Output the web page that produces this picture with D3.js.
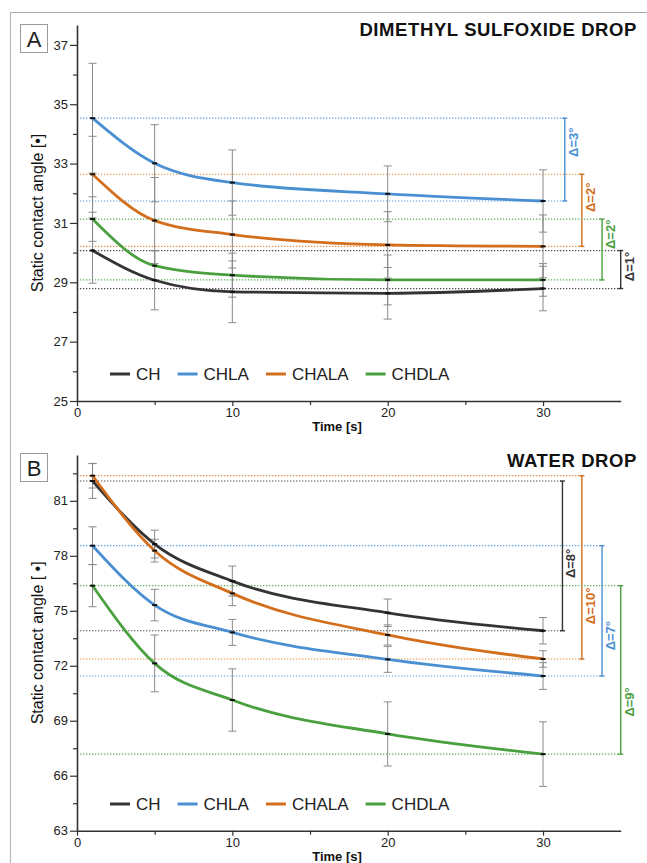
<!DOCTYPE html>
<html>
<head>
<meta charset="utf-8">
<script src="https://cdn.jsdelivr.net/npm/d3@7"></script>
<style>
  html, body { margin: 0; padding: 0; background: #fff; }
  svg { display: block; font-family: "Liberation Sans", Arial, sans-serif; }
</style>
</head>
<body>
<svg id="chart" width="647" height="863"></svg>
<script>
// Sampling times [s]
const times = [1, 5, 10, 20, 30];
const seriesNames = ["CH", "CHLA", "CHALA", "CHDLA"];

// Dimethyl sulfoxide drop: mean static contact angle [°]
const dmsoCH    = [30.07, 29.07, 28.68, 28.63, 28.79];
const dmsoCHLA  = [34.53, 33.01, 32.36, 31.98, 31.74];
const dmsoCHALA = [32.64, 31.08, 30.61, 30.26, 30.21];
const dmsoCHDLA = [31.13, 29.56, 29.24, 29.08, 29.08];
// Dimethyl sulfoxide drop: standard deviation
const dmsoErrCH    = [1.10, 1.00, 1.04, 0.87, 0.75];
const dmsoErrCHLA  = [1.85, 1.30, 1.10, 0.94, 1.05];
const dmsoErrCHALA = [1.28, 1.45, 1.13, 1.12, 1.06];
const dmsoErrCHDLA = [0.75, 0.50, 0.74, 0.84, 0.55];
const dmsoDeltaLabels = ["Δ=1°", "Δ=3°", "Δ=2°", "Δ=2°"];

// Water drop: mean static contact angle [°]
const waterCH    = [82.08, 78.64, 76.62, 74.89, 73.91];
const waterCHLA  = [78.55, 75.31, 73.82, 72.35, 71.44];
const waterCHALA = [82.37, 78.28, 75.95, 73.68, 72.37];
const waterCHDLA = [76.37, 72.13, 70.13, 68.28, 67.18];
// Water drop: standard deviation
const waterErrCH    = [0.95, 0.76, 0.82, 0.75, 0.72];
const waterErrCHLA  = [1.03, 0.86, 0.71, 0.71, 0.73];
const waterErrCHALA = [0.67, 0.62, 0.67, 0.55, 0.45];
const waterErrCHDLA = [1.15, 1.55, 1.70, 1.75, 1.76];
const waterDeltaLabels = ["Δ=8°", "Δ=7°", "Δ=10°", "Δ=9°"];

// Axis ticks
const xTicks = [0, 10, 20, 30];
const xMinorTicks = [5, 15, 25];
const dmsoTicks = [25, 27, 29, 31, 33, 35, 37];
const dmsoMinorTicks = [26, 28, 30, 32, 34, 36];
const waterTicks = [63, 66, 69, 72, 75, 78, 81];
const waterMinorTicks = [64.5, 67.5, 70.5, 73.5, 76.5, 79.5, 82.5];

// Styling
const lineColor = { CH: "#343434", CHLA: "#4a8fd2", CHALA: "#d26e1c", CHDLA: "#4a9f3f" };
const dotColor  = { CH: "#4a4a4a", CHLA: "#5aa0e2", CHALA: "#e48a3a", CHDLA: "#5cb055" };

const svg = d3.select("#chart");

// outer frame
svg.append("line").attr("x1", 10).attr("x2", 647).attr("y1", 12.5).attr("y2", 12.5)
  .attr("stroke", "#a8a8a8").attr("stroke-width", 1.2);
svg.append("line").attr("x1", 10.5).attr("x2", 10.5).attr("y1", 12).attr("y2", 863)
  .attr("stroke", "#b8b8b8").attr("stroke-width", 1.2);

function drawPanel(cfg) {
  const g = svg.append("g");
  const x = d3.scaleLinear().domain([0, 35]).range([77, 620.7]);
  const y = d3.scaleLinear().domain(cfg.yDomain).range(cfg.yRange);

  const series = seriesNames.map((name, i) => ({
    name,
    values: cfg.values[i].map((v, j) => ({ t: times[j], v, e: cfg.errors[i][j] })),
    label: cfg.deltaLabels[i]
  }));

  // panel letter
  g.append("rect").attr("x", 20.5).attr("y", cfg.letterY + 0.5).attr("width", 27).attr("height", 28)
    .attr("fill", "#fff").attr("stroke", "#9a9a9a").attr("stroke-width", 1);
  g.append("text").attr("x", 34).attr("y", cfg.letterY + 23).attr("text-anchor", "middle")
    .attr("font-size", 22).attr("fill", "#222").text(cfg.letter);

  // title
  g.append("text").attr("x", 637).attr("y", cfg.titleY).attr("text-anchor", "end")
    .attr("font-size", 18.5).attr("letter-spacing", 0.6).attr("font-weight", "bold")
    .attr("fill", "#111").text(cfg.title);

  // reference dotted levels and delta brackets (first and last reading)
  series.forEach((s, i) => {
    const first = s.values[0].v, last = s.values[s.values.length - 1].v;
    const bx = x(cfg.bracketT[i]);
    [first, last].forEach(v => {
      g.append("line").attr("x1", x(0)).attr("x2", bx).attr("y1", y(v)).attr("y2", y(v))
        .attr("stroke", dotColor[s.name]).attr("stroke-width", 1.2).attr("stroke-dasharray", "1.3,1.7");
    });
    g.append("line").attr("x1", bx).attr("x2", bx).attr("y1", y(first)).attr("y2", y(last))
      .attr("stroke", lineColor[s.name]).attr("stroke-width", 1.4);
    [first, last].forEach(v => {
      g.append("line").attr("x1", bx - 2.5).attr("x2", bx + 2.5).attr("y1", y(v)).attr("y2", y(v))
        .attr("stroke", lineColor[s.name]).attr("stroke-width", 1.4);
    });
    const top = y(Math.max(first, last)), bot = y(Math.min(first, last));
    const ly = top + (bot - top) * cfg.labelFrac[i];
    g.append("text").attr("transform", `translate(${bx + 13},${ly}) rotate(-90)`)
      .attr("text-anchor", "middle").attr("font-size", 13).attr("font-weight", "bold")
      .attr("fill", lineColor[s.name]).text(s.label);
  });

  // error bars
  series.forEach(s => {
    s.values.forEach(d => {
      g.append("line").attr("x1", x(d.t)).attr("x2", x(d.t)).attr("y1", y(d.v + d.e)).attr("y2", y(d.v - d.e))
        .attr("stroke", "#8a8a8a").attr("stroke-width", 1);
      [d.v + d.e, d.v - d.e].forEach(v => {
        g.append("line").attr("x1", x(d.t) - 4).attr("x2", x(d.t) + 4).attr("y1", y(v)).attr("y2", y(v))
          .attr("stroke", "#8a8a8a").attr("stroke-width", 1);
      });
    });
  });

  // curves
  const line = d3.line().x(d => x(d.t)).y(d => y(d.v)).curve(d3.curveMonotoneX);
  series.forEach(s => {
    g.append("path").datum(s.values).attr("d", line).attr("fill", "none")
      .attr("stroke", lineColor[s.name]).attr("stroke-width", 2.8).attr("stroke-linecap", "round");
  });
  // point markers
  series.forEach(s => {
    s.values.forEach(d => {
      g.append("line").attr("x1", x(d.t) - 2.5).attr("x2", x(d.t) + 2.5).attr("y1", y(d.v)).attr("y2", y(d.v))
        .attr("stroke", "#111").attr("stroke-width", 2);
    });
  });

  // axes
  const axisColor = "#333";
  g.append("g").attr("transform", `translate(${x(0)},0)`)
    .call(d3.axisLeft(y).tickValues(cfg.yTicks).tickSize(7).tickSizeOuter(0).tickPadding(2).tickFormat(d3.format("d")));
  g.append("g").attr("transform", `translate(${x(0)},0)`)
    .call(d3.axisLeft(y).tickValues(cfg.yMinor).tickSize(4).tickSizeOuter(0).tickFormat(""))
    .select(".domain").remove();
  g.append("g").attr("transform", `translate(0,${cfg.yRange[0]})`)
    .call(d3.axisBottom(x).tickValues(xTicks).tickSize(5).tickSizeOuter(0).tickPadding(2).tickFormat(d3.format("d")));
  g.append("g").attr("transform", `translate(0,${cfg.yRange[0]})`)
    .call(d3.axisBottom(x).tickValues(xMinorTicks).tickSize(4).tickSizeOuter(0).tickFormat(""))
    .select(".domain").remove();
  g.selectAll(".domain").attr("stroke", axisColor).attr("stroke-width", 1.6);
  g.selectAll(".tick line").attr("stroke", axisColor).attr("stroke-width", 1.2);
  g.selectAll(".tick text").attr("font-size", 13).attr("fill", "#222")
    .attr("font-family", "'Liberation Sans', Arial, sans-serif");

  // axis titles
  g.append("text").attr("x", 337).attr("y", cfg.yRange[0] + 30).attr("text-anchor", "middle")
    .attr("font-size", 13).attr("font-weight", "bold").attr("fill", "#111").text("Time [s]");
  g.append("text")
    .attr("transform", `translate(43,${(cfg.yRange[0] + cfg.yRange[1]) / 2}) rotate(-90)`)
    .attr("text-anchor", "middle").attr("font-size", 16).attr("fill", "#111").text(cfg.yTitle);

  // legend
  let lx = 110;
  const ly = cfg.legendY;
  series.forEach(s => {
    g.append("line").attr("x1", lx).attr("x2", lx + 20).attr("y1", ly).attr("y2", ly)
      .attr("stroke", lineColor[s.name]).attr("stroke-width", 3);
    const t = g.append("text").attr("x", lx + 26).attr("y", ly + 6).attr("font-size", 17)
      .attr("fill", "#222").text(s.name);
    lx += 26 + t.node().getComputedTextLength() + 17;
  });
}

drawPanel({
  letter: "A", letterY: 24, title: "DIMETHYL SULFOXIDE DROP", titleY: 36,
  yDomain: [25, 37.67], yRange: [401, 25],
  yTicks: dmsoTicks, yMinor: dmsoMinorTicks,
  values: [dmsoCH, dmsoCHLA, dmsoCHALA, dmsoCHDLA],
  errors: [dmsoErrCH, dmsoErrCHLA, dmsoErrCHALA, dmsoErrCHDLA],
  deltaLabels: dmsoDeltaLabels,
  bracketT: [35.0, 31.4, 32.5, 33.8],
  labelFrac: [0.42, 0.29, 0.32, 0.25],
  yTitle: "Static contact angle [•]", legendY: 374
});

drawPanel({
  letter: "B", letterY: 453, title: "WATER DROP", titleY: 467,
  yDomain: [63, 83.5], yRange: [830.7, 455],
  yTicks: waterTicks, yMinor: waterMinorTicks,
  values: [waterCH, waterCHLA, waterCHALA, waterCHDLA],
  errors: [waterErrCH, waterErrCHLA, waterErrCHALA, waterErrCHDLA],
  deltaLabels: waterDeltaLabels,
  bracketT: [31.25, 33.8, 32.5, 35.0],
  labelFrac: [0.55, 0.69, 0.71, 0.69],
  yTitle: "Static contact angle [ •]", legendY: 804
});
</script>
</body>
</html>
